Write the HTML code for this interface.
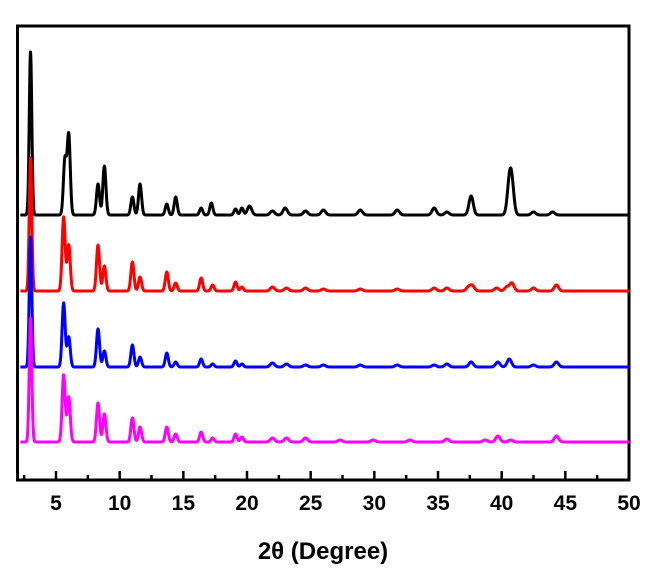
<!DOCTYPE html>
<html><head><meta charset="utf-8"><style>
body{margin:0;background:#fff}
svg text{font-family:"Liberation Sans",Arial,sans-serif;font-weight:bold}
</style></head><body>
<svg width="656" height="577" id="c">
<rect x="17.5" y="26" width="611.5" height="454" fill="none" stroke="#000" stroke-width="3"/>
<g id="ticks"></g>
<g id="lines"></g>
<text x="323" y="559" font-size="24" text-anchor="middle">2θ (Degree)</text>
</svg>
<script>
const xTicks=[5,10,15,20,25,30,35,40,45,50];
const minorTicks=[2.5,7.5,12.5,17.5,22.5,27.5,32.5,37.5,42.5,47.5];
const seriesNames=['sample-black','sample-red','sample-blue','sample-magenta'];
const seriesColors=['#000','#f00','#00f','#f0f'];
const seriesOffsets=[265,189,113,38];
const blackPos=[3.0,5.7,6.0,8.3,8.8,11.0,11.6,13.7,14.4,16.4,17.2,19.1,19.6,20.2,22.0,23.0,24.6,26.0,28.9,31.8,34.7,35.7,37.6,40.6,40.8,42.5,44.0];
const blackInt=[163,55,80,31,49,18,31,11,18,7,12,6,7,9,4,7,4,5,5,5,7,3,19,28,28,3,3];
const redPos=[3.0,5.6,6.0,8.3,8.8,11.0,11.6,13.7,14.4,16.4,17.3,19.1,19.6,22.0,23.1,24.6,26.0,28.9,31.8,34.7,35.7,37.4,37.7,39.6,40.4,40.8,42.5,44.3];
const redInt=[133,74,46,46,25,29,14,19,8,13,6,9,4,4,3,3,2,2,2,3,3,4,5,3,4,8,3,6];
const bluePos=[3.0,5.6,6.0,8.3,8.8,11.0,11.6,13.7,14.4,16.4,17.3,19.1,19.6,22.0,23.1,24.6,26.0,28.9,31.8,34.7,35.7,37.6,39.7,40.6,42.5,44.3];
const blueInt=[130,64,30,38,16,22,10,14,5,8,3,6,3,4,3,2,2,2,2,2,3,5,5,8,2,5];
const magPos=[3.0,5.6,6.0,8.3,8.8,11.0,11.6,13.7,14.4,16.4,17.3,19.1,19.6,22.0,23.1,24.6,27.3,29.9,32.8,35.7,38.7,39.7,40.7,44.3];
const magInt=[124,67,45,39,28,24,15,15,8,10,4,8,5,4,4,4,2,2,2,3,2,6,2,6];
const posArr=[blackPos,redPos,bluePos,magPos];
const intArr=[blackInt,redInt,blueInt,magInt];
const NS='http://www.w3.org/2000/svg';
const X=v=>56+(v-5)*(629-56)/45;
const Y=v=>480-v;
const tg=document.getElementById('ticks');
xTicks.forEach(t=>{
 const l=document.createElementNS(NS,'line');
 
 
 l.setAttribute('x1',X(t));l.setAttribute('x2',X(t));l.setAttribute('y1',480);l.setAttribute('y2',471);
 l.setAttribute('stroke','#000');l.setAttribute('stroke-width','2.5');tg.appendChild(l);
 const tx=document.createElementNS(NS,'text');
 
 
 tx.setAttribute('x',X(t));tx.setAttribute('y',510);tx.setAttribute('font-size','21');tx.setAttribute('text-anchor','middle');
 tx.textContent=t;tg.appendChild(tx);
});
minorTicks.forEach(t=>{
 const l=document.createElementNS(NS,'line');
 
 
 l.setAttribute('x1',X(t));l.setAttribute('x2',X(t));l.setAttribute('y1',480);l.setAttribute('y2',475);
 l.setAttribute('stroke','#000');l.setAttribute('stroke-width','2.5');tg.appendChild(l);
});
const lg=document.getElementById('lines');
posArr.forEach((P,s)=>{
 const I=intArr[s];let d='';
 for(let x=2.2;x<=50.001;x+=0.02){
  let v=0;
  for(let k=0;k<P.length;k++){const w=P[k]<5?0.1:(P[k]<20?0.12:0.17);const z=(x-P[k])/w;v+=I[k]*Math.exp(-z*z/2);}
  d+=(d?'L':'M')+X(x).toFixed(2)+','+Y(seriesOffsets[s]+v).toFixed(2);
 }
 const p=document.createElementNS(NS,'path');
 
 
 p.setAttribute('d',d);p.setAttribute('fill','none');p.setAttribute('stroke',seriesColors[s]);
 p.setAttribute('stroke-width','3');p.setAttribute('stroke-linejoin','round');
 lg.appendChild(p);
});
</script>
</body></html>
